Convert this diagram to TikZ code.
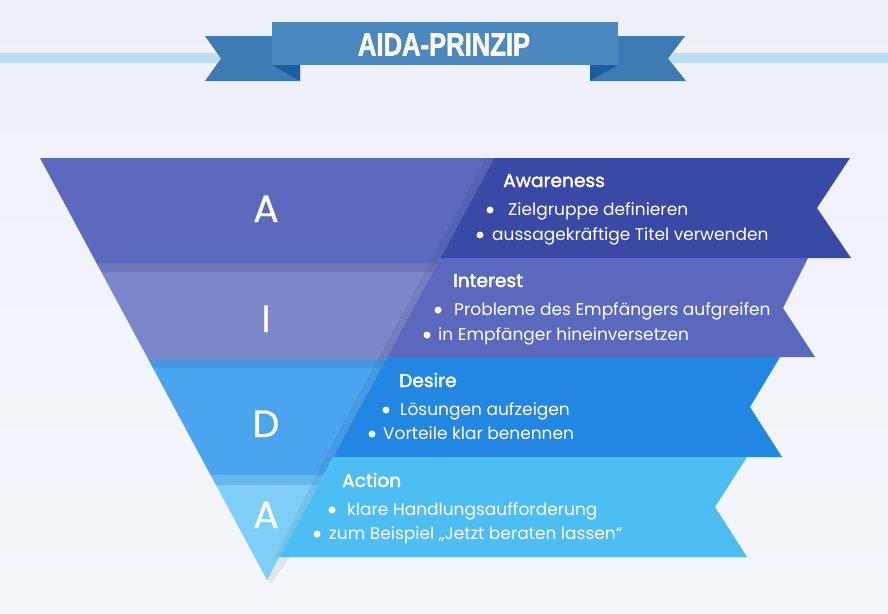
\documentclass[tikz,border=0pt]{standalone}
\usepackage{fontspec}
\setmainfont{Poppins}
\newfontfamily\semibold{Poppins}[FakeBold=2]
\newfontfamily\medium{Poppins}[FakeBold=0.5]
\newfontfamily\bannerfont{Liberation Sans}[FakeBold=2]
\usepackage{graphicx}
\definecolor{bgtop}{HTML}{EEF0F7}
\definecolor{bgbot}{HTML}{F3F7FC}
\definecolor{lineblue}{HTML}{BCDFF7}
\definecolor{bannermain}{HTML}{4B88BF}
\definecolor{bannertail}{HTML}{3E7BB5}
\definecolor{bannerfold}{HTML}{1D5CA3}
\definecolor{triA}{HTML}{5B6ABD}
\definecolor{stripA}{HTML}{6E77B8}
\definecolor{triI}{HTML}{7B87C9}
\definecolor{stripI}{HTML}{4597E0}
\definecolor{triD}{HTML}{4AA4EE}
\definecolor{stripD}{HTML}{68B8EE}
\definecolor{triAA}{HTML}{7FCEF7}
\definecolor{ribAw}{HTML}{3A48A6}
\definecolor{ribIn}{HTML}{5A68BD}
\definecolor{ribDe}{HTML}{2187E3}
\definecolor{ribAc}{HTML}{4CBEF3}
\begin{document}
\begin{tikzpicture}[x=1pt,y=-1pt,
  bigletter/.style={text=white, font=\medium\fontsize{38}{38}\selectfont, anchor=base, inner sep=0pt},
  ribtitle/.style={text=white, font=\semibold\fontsize{18.6}{18.6}\selectfont, anchor=base west, inner sep=0pt},
  ribitem/.style={text=white, font=\fontsize{17}{17}\selectfont, anchor=base west, inner sep=0pt},
  bulletdot/.style={circle, fill=white, inner sep=0pt, minimum size=7pt},
  ribshadow/.style={fill=black, fill opacity=0.06},
]
\useasboundingbox (0,0) rectangle (888,613);
\shade[top color=bgtop, bottom color=bgbot] (0,0) rectangle (888,613);

% light blue line
\fill[lineblue] (0,53) rectangle (888,63);

% banner
\fill[bannertail] (205,36) -- (300,36) -- (300,81) -- (205,81) -- (221,58.5) -- cycle;
\fill[bannertail] (685,36) -- (590,36) -- (590,81) -- (686,81) -- (668,58.5) -- cycle;
\fill[bannerfold] (272,65) -- (300,65) -- (300,81) -- cycle;
\fill[bannerfold] (618,65) -- (590,65) -- (590,81) -- cycle;
\fill[bannermain] (272,22) rectangle (618,65);
\node[text=white, anchor=base, inner sep=0pt, font=\bannerfont\bfseries\fontsize{32}{32}\selectfont] (title) at (444,55.5) {\scalebox{0.8}[1]{AIDA-PRINZIP}};

% triangle
\coordinate (TL) at (40,158);
\coordinate (TR) at (494,158);
\coordinate (AP) at (267,580);
\fill[black, opacity=0.07] (283,552) -- (294,552) -- (271,583) -- (267,580) -- cycle;
\begin{scope}
\clip (TL) -- (TR) -- (AP) -- cycle;
\fill[triA] (0,158) rectangle (888,263);
\fill[stripA] (0,263) rectangle (888,272);
\fill[triI] (0,272) rectangle (888,360);
\fill[stripI] (0,360) rectangle (888,368);
\fill[triD] (0,368) rectangle (888,475);
\fill[stripD] (0,475) rectangle (888,485);
\fill[triAA] (0,485) rectangle (888,590);
\end{scope}

% ribbon shadows
\fill[ribshadow] (486,158) -- (494,158) -- (440.2,258) -- (432.2,258) -- cycle;
\fill[ribshadow] (432.2,258) -- (440.2,258) -- (387,357) -- (379,357) -- cycle;
\fill[ribshadow] (379,357) -- (387,357) -- (333.2,457) -- (325.2,457) -- cycle;
\fill[ribshadow] (325.2,457) -- (333.2,457) -- (279.4,557) -- (275,557) -- cycle;

% ribbons
\fill[ribAw] (494,158) -- (850,158) -- (817,208) -- (851,258) -- (440.2,258) -- cycle;
\fill[ribIn] (440.2,258) -- (808,258) -- (783,308) -- (815,357) -- (387,357) -- cycle;
\fill[ribDe] (387,357) -- (780,357) -- (750,407) -- (782,457) -- (333.2,457) -- cycle;
\fill[ribAc] (333.2,457) -- (747,457) -- (715,507) -- (747,557) -- (279.4,557) -- cycle;

% big letters
\node[bigletter] (lA) at (266,222) {A};
\node[bigletter] (lI) at (266,332) {I};
\node[bigletter] (lD) at (266,437) {D};
\node[bigletter] (lA2) at (266,528) {A};

% Awareness
\node[ribtitle] (aw) at (503,187) {Awareness};
\node[bulletdot] (aw1d) at (490,210) {};
\node[ribitem] (aw1) at (508,215) {Zielgruppe definieren};
\node[bulletdot] (aw2d) at (480,235) {};
\node[ribitem] (aw2) at (492,240) {aussagekräftige Titel verwenden};

% Interest
\node[ribtitle] (in) at (453,287) {Interest};
\node[bulletdot] (in1d) at (438,310) {};
\node[ribitem] (in1) at (454,315) {Probleme des Empfängers aufgreifen};
\node[bulletdot] (in2d) at (427,335) {};
\node[ribitem] (in2) at (438,340) {in Empfänger hineinversetzen};

% Desire
\node[ribtitle] (de) at (399,387) {Desire};
\node[bulletdot] (de1d) at (386,410) {};
\node[ribitem] (de1) at (400,415) {Lösungen aufzeigen};
\node[bulletdot] (de2d) at (372,434) {};
\node[ribitem] (de2) at (383,439) {Vorteile klar benennen};

% Action
\node[ribtitle] (ac) at (342,487) {Action};
\node[bulletdot] (ac1d) at (332,510) {};
\node[ribitem] (ac1) at (347,515) {klare Handlungsaufforderung};
\node[bulletdot] (ac2d) at (317,534) {};
\node[ribitem] (ac2) at (329,539) {zum Beispiel „Jetzt beraten lassen“};
\end{tikzpicture}
\end{document}
